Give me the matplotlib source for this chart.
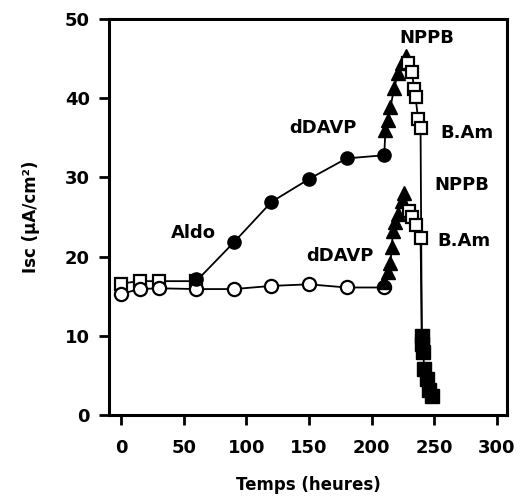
import numpy as np
import matplotlib
matplotlib.use("Agg")
from matplotlib import pyplot as plt

# control series (open circles)
t_ctrl = [0, 15, 30, 60, 90, 120, 150, 180, 210]
isc_ctrl = [15.3, 15.9, 16.0, 15.9, 15.9, 16.3, 16.5, 16.1, 16.1]

# Aldo series: open squares before Aldo, filled circles after
t_pre = [0, 15, 30, 60]
isc_pre = [16.6, 16.9, 16.9, 16.9]
t_aldo = [60, 90, 120, 150, 180, 210]
isc_aldo = [17.2, 21.8, 26.9, 29.8, 32.4, 32.8]

# dDAVP (filled triangles)
t_ddavp_hi = [211, 213, 215, 218, 221, 224, 227]
isc_ddavp_hi = [36.0, 37.3, 38.9, 41.3, 43.2, 44.5, 45.3]
t_ddavp_lo = [210, 213, 215, 216, 217, 219, 221, 224, 226]
isc_ddavp_lo = [16.8, 18.0, 19.2, 21.2, 23.2, 24.4, 25.4, 27.0, 28.0]

# NPPB (open squares)
t_nppb_hi = [229, 232, 234, 235, 237, 239]
isc_nppb_hi = [44.5, 43.3, 41.2, 40.2, 37.4, 36.2]
t_nppb_lo = [230, 232, 235, 239]
isc_nppb_lo = [25.8, 25.0, 24.0, 22.4]

# B.Am (filled squares)
t_bam = [240, 240, 241, 242, 244, 246, 248]
isc_bam = [10.0, 9.0, 8.0, 5.8, 4.5, 3.2, 2.4]

fig = plt.figure(figsize=(5.2, 5.0), dpi=100)
ax = fig.add_axes([0.21, 0.17, 0.765, 0.792])

lw = 1.3
# connecting lines first
ax.plot(t_ctrl + t_ddavp_lo + t_nppb_lo + t_bam[:1],
        isc_ctrl + isc_ddavp_lo + isc_nppb_lo + isc_bam[:1], color='black', lw=lw, zorder=1)
ax.plot(t_pre + t_aldo[1:] + t_ddavp_hi + t_nppb_hi + t_bam,
        isc_pre + isc_aldo[1:] + isc_ddavp_hi + isc_nppb_hi + isc_bam, color='black', lw=lw, zorder=1)

ax.plot(t_ctrl, isc_ctrl, 'o', ms=9.5, mfc='white', mec='black', mew=1.6, ls='none', zorder=3)
ax.plot(t_pre, isc_pre, 's', ms=8.5, mfc='white', mec='black', mew=1.6, ls='none', zorder=2)
ax.plot(t_aldo, isc_aldo, 'o', ms=9.5, color='black', ls='none', zorder=3)
ax.plot(t_ddavp_hi, isc_ddavp_hi, '^', ms=10, color='black', ls='none', zorder=3)
ax.plot(t_ddavp_lo, isc_ddavp_lo, '^', ms=10, color='black', ls='none', zorder=3)
ax.plot(t_nppb_hi, isc_nppb_hi, 's', ms=8.5, mfc='white', mec='black', mew=1.6, ls='none', zorder=4)
ax.plot(t_nppb_lo, isc_nppb_lo, 's', ms=8.5, mfc='white', mec='black', mew=1.6, ls='none', zorder=4)
ax.plot(t_bam, isc_bam, 's', ms=10, color='black', ls='none', zorder=4)

fs = 13
kw = dict(fontsize=fs, fontweight='bold', ha='center', va='center')
ax.text(58, 23, 'Aldo', **kw)
ax.text(161, 36.3, 'dDAVP', **kw)
ax.text(175, 20.1, 'dDAVP', **kw)
ax.text(244, 47.6, 'NPPB', **kw)
ax.text(272, 29.0, 'NPPB', **kw)
ax.text(276, 35.6, 'B.Am', **kw)
ax.text(274, 22.0, 'B.Am', **kw)

ax.set_xlim(-9.5, 308)
ax.set_ylim(0, 50)
ax.set_xticks([0, 50, 100, 150, 200, 250, 300])
ax.set_yticks([0, 10, 20, 30, 40, 50])
ax.tick_params(direction='out', length=7, width=2, labelsize=13, pad=7)
ax.tick_params(axis='x', pad=10)
for lab in ax.get_xticklabels() + ax.get_yticklabels():
    lab.set_fontweight('bold')
for s in ax.spines.values():
    s.set_linewidth(2.2)
ax.set_xlabel('Temps (heures)', fontsize=12, fontweight='bold', labelpad=14)
ax.set_ylabel('Isc (µA/cm²)', fontsize=12, fontweight='bold', labelpad=18)

plt.savefig('out.png', dpi=100)
